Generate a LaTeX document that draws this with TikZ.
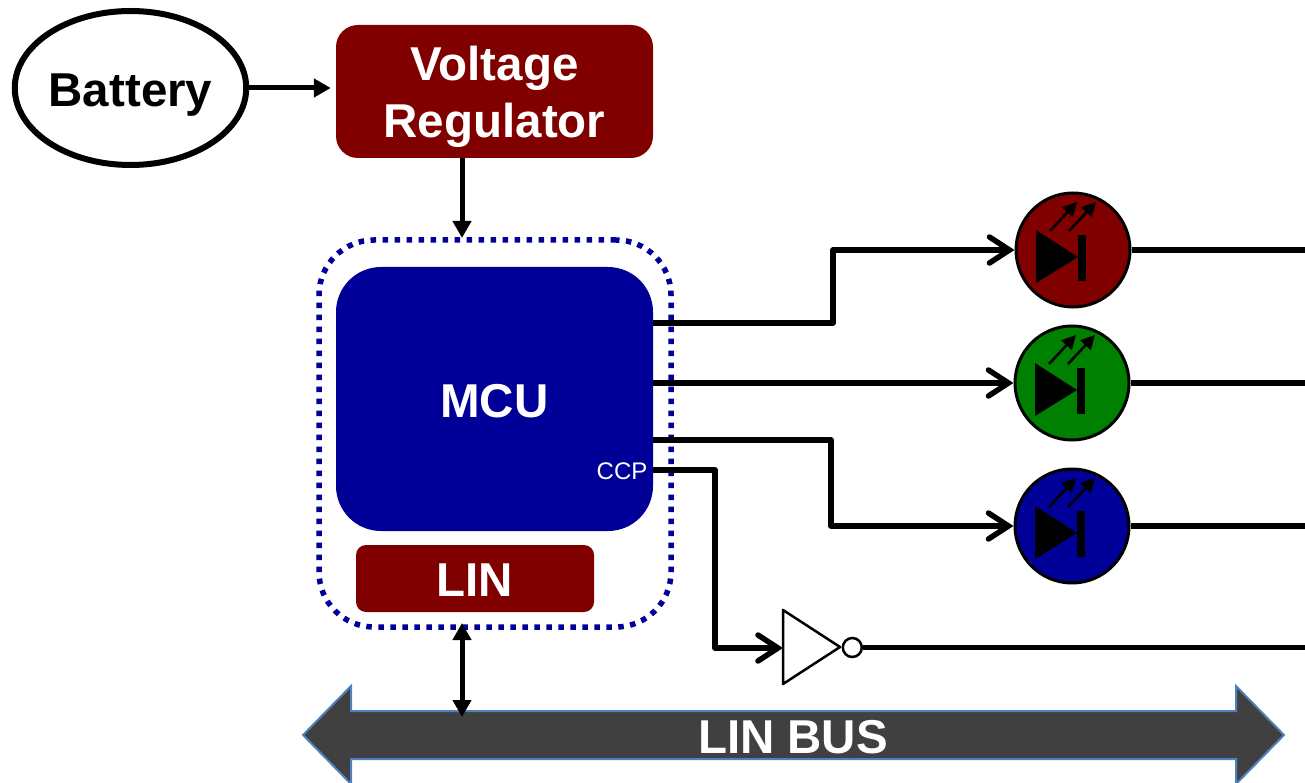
\documentclass[tikz,border=0pt]{standalone}
\usepackage{fontspec}
\setmainfont{Liberation Sans}
\usetikzlibrary{arrows.meta,shapes}
\definecolor{darkred}{HTML}{800000}
\definecolor{darkblue}{HTML}{000099}
\definecolor{darkgreen}{HTML}{008000}
\definecolor{busgray}{HTML}{404040}
\definecolor{busedge}{HTML}{4F81BD}
\tikzset{
  bigtext/.style = {font=\fontsize{47.5}{57}\selectfont\bfseries, align=center},
  block/.style = {bigtext, text=white, inner sep=0pt},
  wire/.style = {line width=5.5pt, line join=round, -{Straight Barb[length=20pt,width=26pt,line cap=round]}},
  feed/.style = {line width=5pt, -{Triangle[length=17pt,width=18pt]}},
  plainwire/.style = {line width=5.5pt},
  led/.style = {circle, draw, line width=3pt, minimum size=114pt, inner sep=0pt}
}
\begin{document}
\begin{tikzpicture}[x=1pt, y=-1pt]
  \useasboundingbox (0,0) rectangle (1305,783);
  % supply side
  \node[ellipse, draw, line width=6pt, minimum width=231pt, minimum height=154pt, inner sep=0pt, bigtext, text height=38pt, text depth=0pt] (battery) at (130.5,88) {Battery};
  \node[block, fill=darkred, rounded corners=22pt, minimum width=317pt, minimum height=133pt, text depth=-4pt] (regulator) at (494.5,91.5) {Voltage\\Regulator};
  \draw[feed, shorten >=5pt] (battery.east) -- (regulator.west |- battery.east);
  % controller
  \node[draw=darkblue, line width=5.5pt, dash pattern=on 5.5pt off 6.5pt, rounded corners=55pt, minimum width=352pt, minimum height=387pt, inner sep=0pt] (board) at (495,433.5) {};
  \node[block, fill=darkblue, rounded corners=45pt, minimum width=317pt, minimum height=264pt, text height=36pt, text depth=0pt] (mcu) at (494.5,399) {MCU};
  \node[block, fill=darkred, rounded corners=10pt, minimum width=238pt, minimum height=67pt, text height=35pt, text depth=0pt] (lin) at (475,578.5) {LIN};
  \node[text=white, font=\fontsize{24}{28}\selectfont, inner sep=0pt] (ccp) at (622,471) {CCP};
  \coordinate (boardtop) at (462,238);
  \draw[feed] (boardtop |- regulator.south) -- (boardtop);
  % bus
  \draw[draw=busedge, fill=busgray, line width=2pt] (303,735) -- (351,686) -- (351,711) -- (1236,711) -- (1236,686) -- (1284,735) -- (1236,784) -- (1236,759) -- (351,759) -- (351,784) -- cycle;
  \node[block] (bus) at (793,737) {LIN BUS};
  \coordinate (boardlow) at (462,623);
  \coordinate (bustop) at (462,717);
  \draw[line width=5pt, {Triangle[length=17pt,width=18pt]}-{Triangle[length=17pt,width=18pt]}] (boardlow) -- (bustop);
  % leds
  \foreach \name/\col/\px/\py in {ledr/darkred/1073/250, ledg/darkgreen/1072/383, ledb/darkblue/1072/526} {
    \node[led, fill=\col] (\name) at (\px,\py) {};
    \begin{scope}[shift={(\name.center)}]
      \fill (-37,-20) -- (-37,33) -- (5,7) -- cycle;
      \fill (5,-15) rectangle (13,31);
      \draw[line width=2.5pt, -{Triangle[length=14pt,width=14pt]}] (-23,-19) -- (4,-48);
      \draw[line width=2.5pt, -{Triangle[length=14pt,width=14pt]}] (-4,-19) -- (23,-48);
    \end{scope}
  }
  \coordinate (pinr) at (653,323);
  \coordinate (ping) at (653,383);
  \coordinate (pinb) at (653,440);
  \coordinate (pinc) at (653,470);
  \draw[wire] (pinr) -- (833,323) |- (ledr.west);
  \draw[wire] (ping) -- (ledg.west);
  \draw[wire] (pinb) -- (831,440) |- (ledb.west);
  % inverter
  \coordinate (notin) at (783,648);
  \draw[line width=2.5pt, line join=round] (783,610) -- (783,684) -- (840,647) -- cycle;
  \node[circle, draw, line width=2.5pt, minimum size=19pt, inner sep=0pt] (notout) at (852.3,647.5) {};
  \draw[wire] (pinc) -- (715,470) |- (notin);
  % outputs
  \foreach \name in {ledr,ledg,ledb,notout} {
    \coordinate (end\name) at (1305,0);
    \draw[plainwire] (\name.east) -- (end\name |- \name.east);
  }
\end{tikzpicture}
\end{document}
